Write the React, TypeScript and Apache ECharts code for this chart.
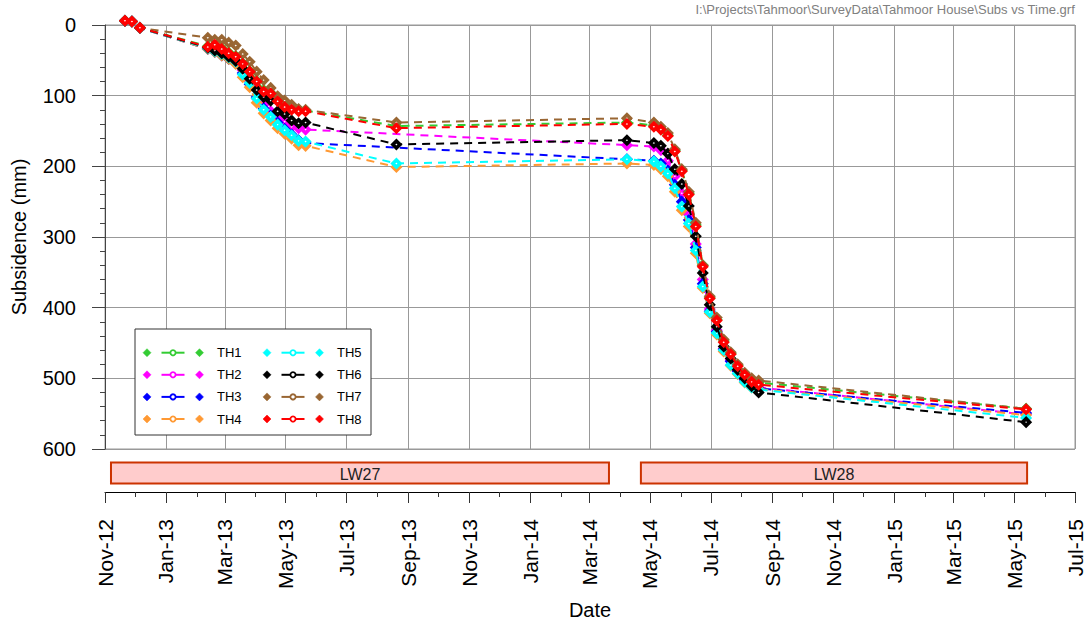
import React, { useEffect, useRef } from 'react';
import * as echarts from 'echarts';

const FONT = '"Liberation Sans", Arial, Helvetica, sans-serif';

// Survey dates shared by all monitoring points
const SURVEY_DATES = [
  '2012-11-21', '2012-11-28', '2012-12-06',
  '2013-02-12', '2013-02-19', '2013-02-26', '2013-03-05', '2013-03-12', '2013-03-19', '2013-03-26',
  '2013-04-02', '2013-04-09', '2013-04-16', '2013-04-23', '2013-04-30', '2013-05-07', '2013-05-14', '2013-05-21',
  '2013-08-20', '2014-04-08',
  '2014-05-05', '2014-05-12', '2014-05-19', '2014-05-26', '2014-06-02', '2014-06-09', '2014-06-16', '2014-06-23',
  '2014-06-30', '2014-07-07', '2014-07-14', '2014-07-21', '2014-07-28', '2014-08-04', '2014-08-11', '2014-08-18',
  '2015-05-13',
];

// Subsidence (mm) per survey date, null where a point was not surveyed
const TH1 = [-6, -5, 4,
  30, 28, 33, 39, 44, 54, 65, 79, 92, 96, 107, 114, 118, 120, 121,
  143, 138,
  142, 147, 156, 178, 206, 238, 283, 340, 386, 417, 447, 465, 482, 494, 503, 506,
  543];
const TH2 = [-6, -5, 4,
  33, 37, 42, 47, 53, 64, 80, 104, 113, 122, 132, 137, 144, 146, 148,
  null, 170,
  172, 177, 192, 214, 238, 268, 310, 360, 402, 432, 458, 474, 489, 501, 509, 513,
  551];
const TH3 = [-6, -5, 4,
  34, 38, 43, 48, 54, 68, 84, 102, 118, 128, 138, 147, 155, 163, 167,
  null, 190,
  192, 196, 206, 226, 250, 276, 315, 366, 405, 434, 459, 476, 490, 502, 510, 514,
  549];
const TH4 = [-6, -5, 4,
  34, 38, 43, 48, 55, 74, 88, 110, 125, 135, 146, 154, 161, 170, 171,
  201, 196,
  198, 204, 214, 236, 262, 285, 323, 372, 408, 438, 462, 482, 494, 506, 513, 515,
  552];
const TH5 = [-6, -5, 4,
  33, 37, 41, 46, 52, 70, 82, 104, 120, 130, 141, 149, 156, 164, 165,
  196, 190,
  193, 200, 210, 231, 257, 281, 319, 370, 406, 436, 460, 481, 493, 505, 513, 516,
  556];
const TH6 = [-6, -5, 4,
  32, 36, 40, 45, 51, 62, 76, 92, 102, 107, 122, 126, 135, 139, 138,
  169, 163,
  167, 171, 182, 204, 225, 256, 299, 351, 396, 427, 455, 472, 488, 500, 511, 520,
  562];
const TH7 = [-6, -5, 4,
  18, 21, 21, 25, 29, 41, 52, 66, 78, 89, 101, 107, 113, 119, 120,
  138, 132,
  138, 144, 153, 176, 204, 236, 280, 340, 384, 414, 445, 463, 480, 492, 500, 503,
  543];
const TH8 = [-6, -5, 4,
  31, 28, 34, 40, 45, 55, 66, 80, 94, 97, 108, 116, 120, 122, 122,
  146, 140,
  144, 148, 157, 179, 207, 240, 285, 342, 387, 418, 449, 466, 483, 495, 505, 509,
  544];

const SERIES_NAMES = ['TH1', 'TH2', 'TH3', 'TH4', 'TH5', 'TH6', 'TH7', 'TH8'];
const SERIES_VALUES = [TH1, TH2, TH3, TH4, TH5, TH6, TH7, TH8];
const SERIES_COLORS = ['#33cc33', '#ff00ff', '#0000ff', '#ff9933', '#00ffff', '#000000', '#996633', '#ff0000'];

// Longwall extraction periods
const PANEL_NAMES = ['LW27', 'LW28'];
const PANEL_START = ['2012-11-07', '2014-04-22'];
const PANEL_END = ['2014-03-21', '2015-05-14'];

// Date axis
const X_MIN = '2012-11-01';
const X_MAX = '2015-07-01';
const X_MAJOR_TICKS = [
  '2012-11-01', '2013-01-01', '2013-03-01', '2013-05-01', '2013-07-01', '2013-09-01', '2013-11-01',
  '2014-01-01', '2014-03-01', '2014-05-01', '2014-07-01', '2014-09-01', '2014-11-01',
  '2015-01-01', '2015-03-01', '2015-05-01', '2015-07-01',
];
const X_MINOR_TICKS = [
  '2012-12-01', '2013-02-01', '2013-04-01', '2013-06-01', '2013-08-01', '2013-10-01', '2013-12-01',
  '2014-02-01', '2014-04-01', '2014-06-01', '2014-08-01', '2014-10-01', '2014-12-01',
  '2015-02-01', '2015-04-01', '2015-06-01',
];
const MONTH_NAMES = ['Jan', 'Feb', 'Mar', 'Apr', 'May', 'Jun', 'Jul', 'Aug', 'Sep', 'Oct', 'Nov', 'Dec'];

const FILE_PATH = 'I:\\Projects\\Tahmoor\\SurveyData\\Tahmoor House\\Subs vs Time.grf';

function ts(s: string): number {
  const [y, m, d] = s.split('-').map(Number);
  return new Date(y, m - 1, d).getTime();
}

function monthLabel(v: number): string {
  // nudge by half a day so rounding never lands on the previous month
  const d = new Date(v + 12 * 3600 * 1000);
  return MONTH_NAMES[d.getMonth()] + '-' + String(d.getFullYear()).slice(2);
}

function buildLegend(): any[] {
  const els: any[] = [
    {
      type: 'rect',
      shape: { x: 135, y: 329, width: 236, height: 106 },
      style: { fill: '#ffffff', stroke: '#333333', lineWidth: 1 },
      z: 100,
    },
  ];
  SERIES_NAMES.forEach((name, i) => {
    const col = Math.floor(i / 4);
    const row = i % 4;
    const x0 = 147 + col * 120;
    const y = 352.7 + row * 22.1;
    const color = SERIES_COLORS[i];
    const diamond = (cx: number) => ({
      type: 'polygon',
      shape: { points: [[cx, y - 4], [cx + 4, y], [cx, y + 4], [cx - 4, y]] },
      style: { fill: color, stroke: color, lineWidth: 0.5 },
      z: 101,
    });
    els.push(
      {
        type: 'line',
        shape: { x1: x0 + 14.5, y1: y, x2: x0 + 37.5, y2: y },
        style: { stroke: color, lineWidth: 2 },
        z: 101,
      },
      diamond(x0),
      diamond(x0 + 52.5),
      {
        type: 'circle',
        shape: { cx: x0 + 26, cy: y, r: 2.6 },
        style: { fill: '#ffffff', stroke: color, lineWidth: 1.8 },
        z: 102,
      },
      {
        type: 'text',
        x: x0 + 70,
        y: y,
        style: { text: name, fontSize: 13, fontFamily: FONT, fill: '#000', verticalAlign: 'middle', align: 'left' },
        z: 101,
      },
    );
  });
  return els;
}

export default function App() {
  const ref = useRef<HTMLDivElement>(null);

  useEffect(() => {
    if (!ref.current) return;
    const chart = echarts.init(ref.current, null, { renderer: 'svg' });

    const xMin = ts(X_MIN);
    const xMax = ts(X_MAX);
    const majorTicks = X_MAJOR_TICKS.map(ts);
    const minorTicks = X_MINOR_TICKS.map(ts);
    const dates = SURVEY_DATES.map(ts);

    const lineSeries = SERIES_NAMES.map((name, i) => ({
      type: 'line',
      name,
      xAxisIndex: 0,
      yAxisIndex: 0,
      data: dates
        .map((d, j) => [d, SERIES_VALUES[i][j]])
        .filter((p) => p[1] !== null && p[1] !== undefined),
      symbol: 'diamond',
      symbolSize: 7,
      showSymbol: true,
      clip: false,
      itemStyle: { color: '#ffffff', borderColor: SERIES_COLORS[i], borderWidth: 3.6 },
      lineStyle: { color: SERIES_COLORS[i], width: 2, type: [8, 6] },
      emphasis: { disabled: true },
      silent: true,
      z: 2 + i,
    }));

    const panelSeries = {
      type: 'custom',
      xAxisIndex: 1,
      yAxisIndex: 1,
      encode: { x: [0, 1] },
      data: PANEL_NAMES.map((_, i) => [ts(PANEL_START[i]), ts(PANEL_END[i])]),
      silent: true,
      renderItem: (params: any, api: any) => {
        const s = api.coord([api.value(0), 0.797]);
        const e = api.coord([api.value(1), 0.23]);
        return {
          type: 'group',
          children: [
            {
              type: 'rect',
              shape: { x: s[0], y: s[1], width: e[0] - s[0], height: e[1] - s[1] },
              style: { fill: '#ffcccc', stroke: '#cc3300', lineWidth: 2 },
            },
            {
              type: 'text',
              x: (s[0] + e[0]) / 2,
              y: (s[1] + e[1]) / 2 + 1,
              style: {
                text: PANEL_NAMES[params.dataIndex],
                fontSize: 16,
                fontFamily: FONT,
                fill: '#222',
                align: 'center',
                verticalAlign: 'middle',
              },
            },
          ],
        };
      },
    };

    const option: any = {
      animation: false,
      textStyle: { fontFamily: FONT },
      grid: [
        {
          left: 105, right: 9, top: 25, height: 424,
          show: true, borderColor: '#999', borderWidth: 1,
          outerBoundsMode: 'none', containLabel: false,
        },
        { left: 105, right: 9, top: 455, height: 37, outerBoundsMode: 'none', containLabel: false },
      ],
      xAxis: [
        {
          type: 'value',
          gridIndex: 0,
          min: xMin,
          max: xMax,
          axisLine: { show: false },
          axisTick: { show: false, customValues: majorTicks },
          axisLabel: { show: false, customValues: majorTicks },
          splitLine: { show: true, lineStyle: { color: '#999', width: 1 } },
        },
        {
          type: 'value',
          gridIndex: 1,
          min: xMin,
          max: xMax,
          position: 'bottom',
          axisLine: { show: true, onZero: false, lineStyle: { color: '#000', width: 1 } },
          axisTick: { show: true, customValues: majorTicks, length: 11, lineStyle: { color: '#333', width: 1 } },
          axisLabel: {
            show: true,
            customValues: majorTicks,
            rotate: 90,
            margin: 27,
            fontSize: 21,
            color: '#000',
            fontFamily: FONT,
            formatter: (v: number) => monthLabel(v),
          },
          splitLine: { show: false },
          name: 'Date',
          nameLocation: 'middle',
          nameGap: 108,
          nameMoveOverlap: false,
          nameTextStyle: { fontSize: 20, color: '#000', fontFamily: FONT },
        },
        {
          type: 'value',
          gridIndex: 1,
          min: xMin,
          max: xMax,
          position: 'bottom',
          axisLine: { show: false, onZero: false },
          axisTick: { show: true, customValues: minorTicks, length: 5, lineStyle: { color: '#333', width: 1 } },
          axisLabel: { show: false, customValues: minorTicks },
          splitLine: { show: false },
        },
      ],
      yAxis: [
        {
          type: 'value',
          gridIndex: 0,
          inverse: true,
          min: 0,
          max: 600,
          interval: 100,
          axisLine: { show: true, lineStyle: { color: '#444', width: 1 } },
          axisTick: { show: true, length: 13, lineStyle: { color: '#444' } },
          minorTick: { show: true, splitNumber: 5, length: 5, lineStyle: { color: '#444' } },
          splitLine: { show: true, lineStyle: { color: '#999', width: 1 } },
          axisLabel: { fontSize: 20, margin: 29, color: '#000', fontFamily: FONT },
          name: 'Subsidence (mm)',
          nameLocation: 'middle',
          nameGap: 76,
          nameMoveOverlap: false,
          nameTextStyle: { fontSize: 20, color: '#000', fontFamily: FONT },
        },
        { type: 'value', gridIndex: 1, min: 0, max: 1, show: false },
      ],
      series: [...lineSeries, panelSeries],
      graphic: [
        {
          type: 'text',
          right: 9,
          top: 3,
          style: { text: FILE_PATH, fontSize: 13, fontFamily: FONT, fill: '#808080' },
        },
        ...buildLegend(),
      ],
    };

    chart.setOption(option);
    return () => chart.dispose();
  }, []);

  return (
    <div
      ref={ref}
      style={{ position: 'fixed', left: 0, top: 0, width: 1084, height: 626, background: '#fff' }}
    />
  );
}
